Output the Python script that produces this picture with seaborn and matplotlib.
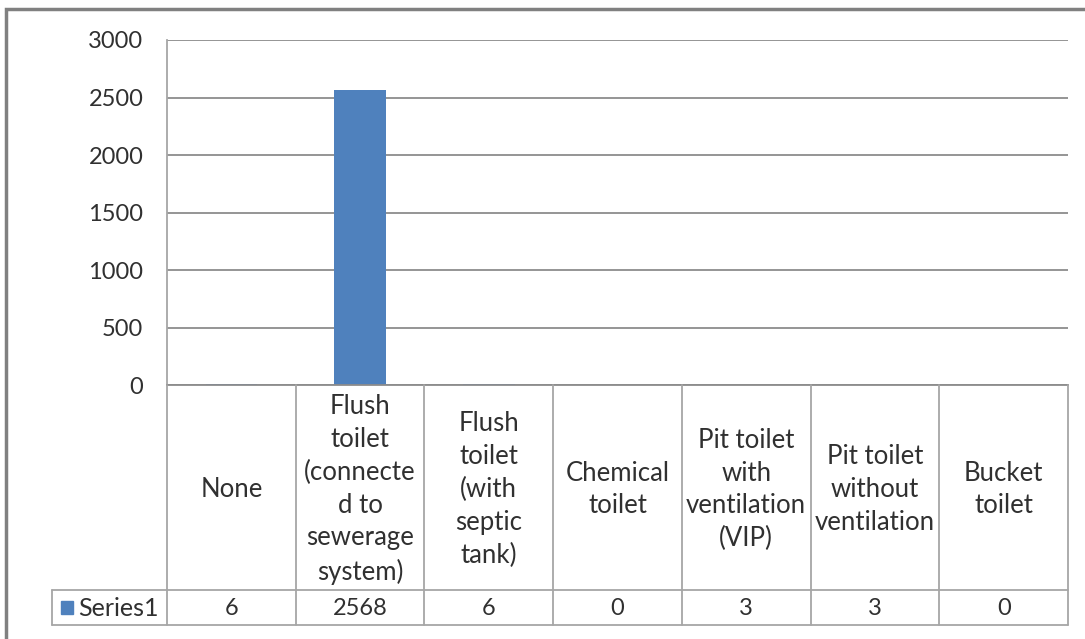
import matplotlib
matplotlib.use("Agg")
import matplotlib.pyplot as plt
from matplotlib.patches import Rectangle
import seaborn as sns
import pandas as pd

categories = [
    "None",
    "Flush\ntoilet\n(connecte\nd to\nsewerage\nsystem)",
    "Flush\ntoilet\n(with\nseptic\ntank)",
    "Chemical\ntoilet",
    "Pit toilet\nwith\nventilation\n(VIP)",
    "Pit toilet\nwithout\nventilation",
    "Bucket\ntoilet",
]
values = [6, 2568, 6, 0, 3, 3, 0]
series_name = "Series1"
y_ticks = [0, 500, 1000, 1500, 2000, 2500, 3000]

BAR = "#4F81BD"
GRID = "#8C8C8C"
TABLE = "#A6A6A6"
TEXT = "#303030"

sns.set_theme(style="white")
plt.rcParams["font.family"] = ["Lato", "DejaVu Sans"]

W, H = 1085, 639
fig = plt.figure(figsize=(W / 100, H / 100), dpi=100)
fig.patch.set_facecolor("white")

def fx(px):
    return px / W

def fy(py):
    return 1 - py / H

# plot area (pixel frame)
L, R, T, B = 167, 1068, 40, 385
ax = fig.add_axes([fx(L), fy(B), fx(R - L), (B - T) / H])

df = pd.DataFrame({"cat": categories, "val": values})
sns.barplot(data=df, x="cat", y="val", color=BAR, width=0.4,
            saturation=1, ax=ax, edgecolor="none")
ax.set_xlim(-0.5, len(categories) - 0.5)
ax.set_ylim(0, 3000)
ax.set_yticks(y_ticks)
ax.set_yticklabels([str(t) for t in y_ticks], fontsize=17, color=TEXT)
ax.tick_params(axis="y", length=0, pad=17)
ax.set_xticks([])
ax.set_xlabel("")
ax.set_ylabel("")
ax.yaxis.grid(True, color=GRID, linewidth=1.3)
ax.set_axisbelow(True)
for s in ["top", "right"]:
    ax.spines[s].set_visible(False)
ax.spines["left"].set_color(TABLE)
ax.spines["left"].set_linewidth(1.3)
ax.spines["bottom"].set_color(GRID)
ax.spines["bottom"].set_linewidth(1.3)

# data table under the plot
TB = 625
ROW = 590
tax = fig.add_axes([fx(L), fy(TB), fx(R - L), (TB - B) / H])
tax.set_xlim(-0.5, len(categories) - 0.5)
tax.set_ylim(TB, B)
tax.axis("off")

n = len(categories)
for k in range(n + 1):
    tax.plot([k - 0.5, k - 0.5], [B, TB], color=TABLE, lw=1.3, clip_on=False)

# legend-key cell extends left of the plot area
left_cell = (52 - L) / (R - L) * n - 0.5
for yy in (ROW, TB):
    tax.plot([left_cell, n - 0.5], [yy, yy], color=TABLE, lw=1.3, clip_on=False)
tax.plot([left_cell, left_cell], [ROW, TB], color=TABLE, lw=1.3, clip_on=False)

for i, (c, v) in enumerate(zip(categories, values)):
    tax.text(i, (B + ROW) / 2 + 2, c, ha="center", va="center", fontsize=18.5,
             color=TEXT, linespacing=1.39)
    tax.text(i, (ROW + TB) / 2 + 1, str(v), ha="center", va="center",
             fontsize=17, color=TEXT)

key_w = 12 / (R - L) * n
key_x = (61 - L) / (R - L) * n - 0.5
tax.add_patch(Rectangle((key_x, 601), key_w, 13, color=BAR, clip_on=False))
tax.text((78 - L) / (R - L) * n - 0.5, (ROW + TB) / 2 + 1, series_name,
         ha="left", va="center", fontsize=18, color=TEXT)

# outer chart frame
fig.patches.append(Rectangle((fx(6), fy(H + 20)), fx(W + 20), (H + 20 - 9) / H,
                             transform=fig.transFigure, fill=False,
                             edgecolor="#808080", linewidth=2.5))

fig.savefig("out.png", dpi=100, facecolor="white")
